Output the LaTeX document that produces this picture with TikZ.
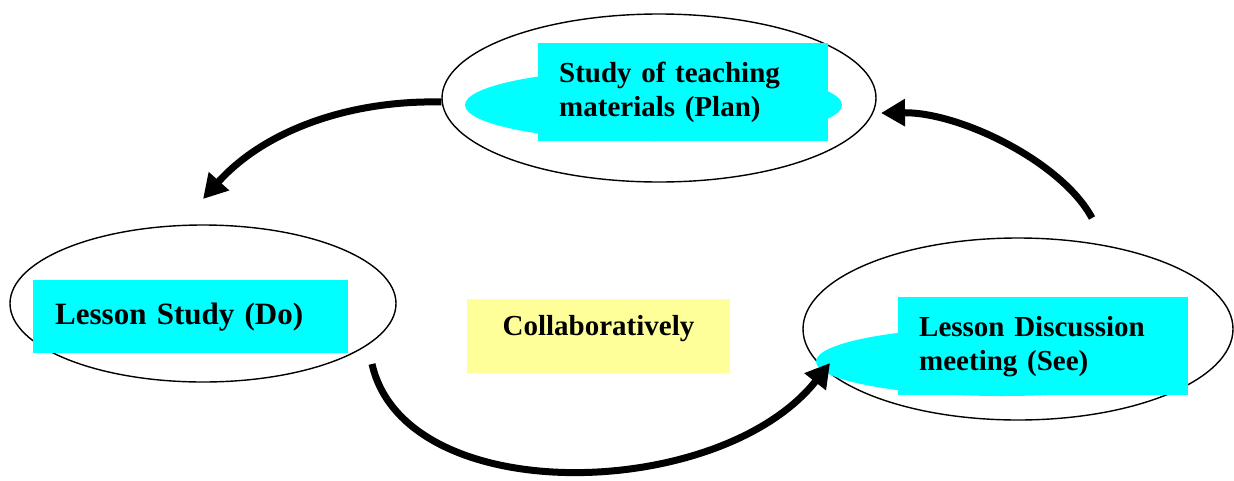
\documentclass[tikz,border=0pt]{standalone}
\usepackage{fontspec}
\setmainfont{Liberation Serif}
\usetikzlibrary{shapes.geometric,arrows.meta}
\definecolor{boxcyan}{HTML}{00FFFF}
\definecolor{noteyellow}{HTML}{FFFF99}
\begin{document}
\begin{tikzpicture}[x=1pt,y=-1pt,
  ring/.style={ellipse, draw=black, line width=1.4pt, inner sep=0pt},
  halo/.style={ellipse, fill=boxcyan, inner sep=0pt},
  stage/.style={rectangle, fill=boxcyan, inner ysep=0pt, inner xsep=21pt,
    align=left, anchor=north west, font=\fontsize{29}{34}\selectfont\bfseries},
  flow/.style={line width=7pt, -{Triangle[length=24pt,width=26pt]}}
]
\useasboundingbox (0,0) rectangle (1234,480);

% outer rings of the three phases
\node[ring, minimum width=434pt, minimum height=168pt] (plan) at (659,98) {};
\node[ring, minimum width=386pt, minimum height=157pt] (do) at (203,303.5) {};
\node[ring, minimum width=430pt, minimum height=182pt] (see) at (1018,329) {};

% cyan blobs behind the labels
\node[halo, minimum width=377pt, minimum height=72pt] (planhalo) at (653.5,105) {};
\node[halo, minimum width=372pt, minimum height=69pt] (seehalo) at (1002,361.5) {};

% phase labels
\node[stage, text width=248pt, minimum height=98pt] (plantext) at (538,43)
  {Study of teaching\\materials (Plan)};
\node[stage, text width=271pt, inner xsep=22pt, minimum height=73pt,
  font=\fontsize{31}{34}\selectfont\bfseries] (dotext) at (33,280)
  {Lesson Study (Do)};
\node[stage, text width=248pt, minimum height=98pt] (seetext) at (898,297)
  {Lesson Discussion\\meeting (See)};

% centre note
\node[rectangle, fill=noteyellow, minimum width=263pt, minimum height=74pt,
  text height=10pt, text depth=12pt, inner sep=0pt,
  font=\fontsize{29}{34}\selectfont\bfseries] (note) at (598.5,336) {Collaboratively};

% cycle arrows
\coordinate (doIn) at (203,199);
\coordinate (seeOut) at (1092,218);
\coordinate (planIn) at (881,113);
\coordinate (doOut) at (372,364);
\coordinate (seeIn) at (830,363);

\draw[flow] ([yshift=-4pt]plan.west) .. controls (350,100) and (265,130) .. (doIn);
\draw[flow] (seeOut) .. controls (1062,162) and (960,112) .. (planIn);
\draw[flow] (doOut) .. controls (405,510) and (720,502) .. (seeIn);
\end{tikzpicture}
\end{document}
